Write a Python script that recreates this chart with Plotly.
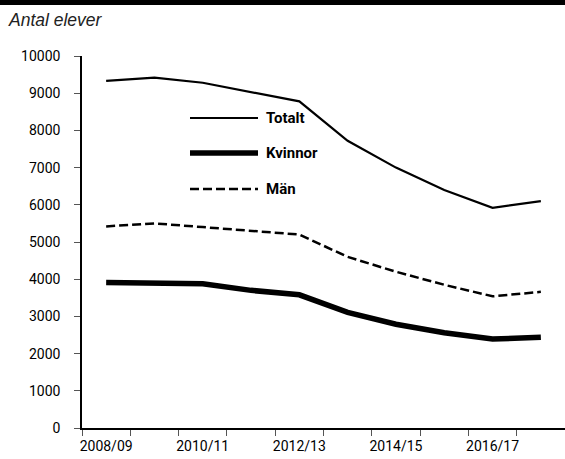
import plotly.graph_objects as go

years = ["2008/09", "2009/10", "2010/11", "2011/12", "2012/13",
         "2013/14", "2014/15", "2015/16", "2016/17", "2017/18"]
tick_labels = ["2008/09", "", "2010/11", "", "2012/13", "", "2014/15", "", "2016/17", ""]
totalt = [9330, 9420, 9280, 9020, 8780, 7720, 7000, 6400, 5920, 6100]
kvinnor = [3910, 3900, 3880, 3700, 3580, 3110, 2790, 2560, 2390, 2440]
man = [5420, 5500, 5400, 5300, 5200, 4600, 4200, 3850, 3540, 3660]
y_ticks = list(range(0, 10001, 1000))
y_tick_labels = [str(v) for v in y_ticks]

FONT = "Roboto, sans-serif"

fig = go.Figure()
fig.add_trace(go.Scatter(x=years, y=totalt, name="Totalt", mode="lines",
                         line=dict(color="black", width=2.2)))
fig.add_trace(go.Scatter(x=years, y=kvinnor, name="Kvinnor", mode="lines",
                         line=dict(color="black", width=5.5)))
fig.add_trace(go.Scatter(x=years, y=man, name="Män", mode="lines",
                         line=dict(color="black", width=2.5, dash="9px,4px")))

W, H = 565, 459
left, right, top, bottom = 82, 0, 56, 31
ph = H - top - bottom
pw = W - left - right
def ypap(py):
    return (H - bottom - py) / ph
def xpap(px):
    return (px - left) / pw

# manual legend
legend_items = [("Totalt", 2.2, "solid", 118), ("Kvinnor", 5.5, "solid", 153), ("Män", 2.5, "9px,4px", 189)]
for name, w, dash, py in legend_items:
    fig.add_shape(type="line", xref="paper", yref="paper",
                  x0=xpap(190), x1=xpap(258), y0=ypap(py), y1=ypap(py),
                  line=dict(color="black", width=w, dash=dash))
    fig.add_annotation(xref="paper", yref="paper", x=xpap(264), y=ypap(py),
                       text="<b>%s</b>" % name, showarrow=False,
                       xanchor="left", yanchor="middle",
                       font=dict(family=FONT, size=15, color="black"))

# top black band
fig.add_shape(type="rect", xref="paper", yref="paper",
              x0=xpap(-10), x1=xpap(580), y0=ypap(5), y1=ypap(-10),
              fillcolor="black", line=dict(width=0), layer="above")

fig.add_annotation(xref="paper", yref="paper", x=xpap(6), y=ypap(20),
                   text="<i>Antal elever</i>", showarrow=False,
                   xanchor="left", yanchor="middle",
                   font=dict(family="Liberation Sans, Arial, sans-serif", size=17.5, color="#222"))

fig.update_layout(
    width=W, height=H,
    margin=dict(l=left, r=right, t=top, b=bottom, autoexpand=False),
    paper_bgcolor="white", plot_bgcolor="white",
    showlegend=False,
    font=dict(family=FONT, size=14, color="black"),
    xaxis=dict(type="category", tickmode="array", tickvals=years, ticktext=tick_labels,
               range=[-0.5, len(years) - 0.5],
               tickson="boundaries", ticks="outside", ticklen=6, tickcolor="#555",
               tickangle=0, automargin=False, ticklabelstandoff=4,
               showline=True, linecolor="black", linewidth=1.5, showgrid=False,
               zeroline=False, tickfont=dict(family=FONT, size=14, color="black")),
    yaxis=dict(range=[0, 10000], tickmode="array", tickvals=y_ticks, ticktext=y_tick_labels,
               ticks="outside", ticklen=6, automargin=False,
               tickcolor="#555", showline=True, linecolor="black", linewidth=1.5,
               showgrid=False, zeroline=False, ticklabelstandoff=11,
               tickfont=dict(family=FONT, size=14, color="black")),
)

fig.write_html("out.html", config={"displayModeBar": False},
               post_script="document.body.style.margin='0px';")
